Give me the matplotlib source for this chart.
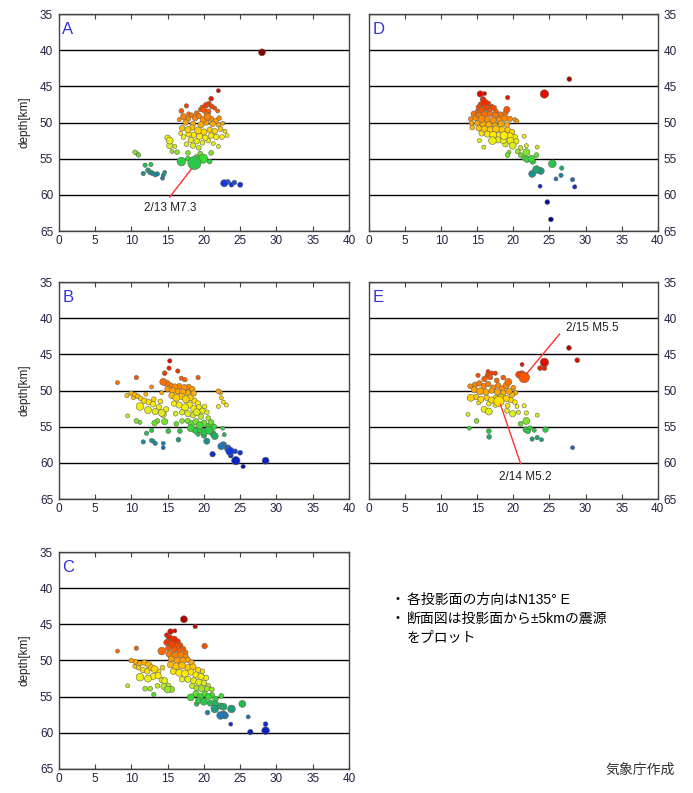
import numpy as np
import matplotlib
matplotlib.use('Agg')
import matplotlib.pyplot as plt
from matplotlib.colors import LinearSegmentedColormap, Normalize

plt.rcParams['font.family'] = ['Liberation Sans', 'Noto Sans CJK JP']

# hypocentres: (distance along section [km], depth [km], magnitude)
pts_a = [
    (28.0, 40.3, 3),
    (22.0, 45.6, 1), (21.0, 46.7, 1.5), (17.6, 47.7, 1.2), (16.9, 48.4, 1.5),
    (19.8, 47.9, 1.5), (20.3, 47.6, 2), (20.7, 47.4, 1.5), (21.1, 47.8, 1.5), (21.5, 48.0, 1),
    (20.0, 48.3, 2), (19.5, 48.2, 1), (21.9, 48.4, 1), (20.6, 48.5, 2),
    (17.2, 49.2, 2.5), (17.8, 49.5, 2), (18.3, 49.0, 1.5), (18.8, 49.4, 2), (19.3, 49.1, 2),
    (19.9, 49.6, 2.5), (20.5, 49.2, 3), (21.0, 49.5, 2), (21.6, 49.8, 2), (22.1, 49.4, 1.5),
    (16.6, 49.6, 1), (17.5, 50.0, 2), (18.5, 50.2, 2), (19.6, 50.3, 2.5), (20.3, 50.0, 2),
    (21.2, 50.2, 2), (22.0, 50.3, 1.5), (22.6, 50.1, 1), (20.4, 48.9, 2), (19.0, 48.7, 1.5),
    (17.9, 48.8, 1),
    (17.0, 50.8, 2), (17.8, 51.0, 2.5), (18.4, 50.7, 2), (19.2, 51.1, 3), (20.0, 51.3, 2.5),
    (20.8, 51.0, 2), (21.5, 51.2, 2), (22.3, 50.9, 1.5), (22.9, 51.2, 1), (23.2, 51.8, 1),
    (22.5, 52.0, 1.5), (21.7, 52.0, 2), (21.0, 51.8, 2), (20.2, 52.1, 2), (19.4, 51.9, 2.5),
    (18.6, 51.7, 2), (17.9, 51.6, 2), (17.2, 52.0, 1.5), (16.8, 51.5, 1), (18.2, 52.4, 2),
    (19.0, 52.6, 2), (19.8, 52.8, 1.5), (20.6, 52.5, 1.5), (21.3, 52.9, 1), (18.5, 53.2, 2),
    (19.3, 53.5, 1.5), (17.6, 53.0, 1.5), (22.0, 53.3, 1), (15.3, 52.5, 3), (15.3, 53.2, 2.5),
    (15.0, 52.1, 2), (16.0, 53.3, 1),
    (16.3, 54.1, 1.5), (17.8, 54.2, 1.5), (19.5, 54.3, 1.5), (21.0, 54.2, 1.5), (15.6, 54.0, 1),
    (10.5, 54.1, 1.2), (11.0, 54.5, 1.2), (10.8, 54.3, 1),
    (16.9, 55.4, 4.2), (18.7, 55.6, 7.3), (19.9, 55.0, 4.5), (20.8, 55.4, 1.5), (19.0, 54.8, 2),
    (17.8, 55.0, 1.5),
    (11.9, 55.9, 1.2), (12.7, 55.8, 1.2), (12.3, 56.6, 1.5), (12.6, 56.9, 1.5), (12.9, 57.0, 1.5),
    (13.3, 57.2, 1.5), (13.6, 57.1, 1.2), (11.65, 57.05, 1.2), (14.4, 57.3, 1), (14.6, 56.9, 1),
    (14.3, 57.7, 1),
    (22.8, 58.4, 3.2), (23.3, 58.2, 1.5), (23.8, 58.6, 1.5), (24.2, 58.3, 1.5), (25.0, 58.6, 1.8),
]

pts_b = [
    (15.3, 45.9, 1.2), (15.2, 46.9, 1.2), (16.4, 47.3, 1.2), (14.6, 47.6, 1.5), (16.9, 48.3, 1.2),
    (17.4, 48.5, 1.2), (19.2, 48.2, 1.2), (10.7, 48.2, 1.2), (8.1, 48.9, 1),
    (14.4, 48.8, 3), (14.9, 49.0, 2.5), (15.4, 49.3, 2), (16.0, 49.5, 2.5), (16.6, 49.4, 2),
    (17.3, 49.6, 2.5), (17.9, 49.5, 2), (18.4, 49.8, 2), (15.0, 49.8, 2), (15.7, 50.0, 2.5),
    (16.4, 50.1, 2), (17.1, 50.2, 2.5), (17.8, 50.3, 2), (18.6, 50.4, 2), (12.8, 49.5, 1),
    (14.2, 50.3, 1), (22.0, 50.1, 1.5), (22.3, 50.3, 1),
    (9.4, 50.7, 1.2), (10.0, 50.4, 1.5), (10.5, 50.6, 1.5), (10.9, 50.8, 1.5), (11.3, 51.1, 1.5),
    (10.3, 51.0, 1), (11.8, 51.4, 2), (12.4, 51.6, 2), (11.2, 52.2, 3.5), (12.3, 52.7, 3),
    (13.3, 52.9, 2.5), (13.0, 51.9, 2), (13.8, 52.3, 2), (14.2, 53.1, 3), (14.4, 53.3, 2.5),
    (14.8, 52.6, 2), (12.0, 50.5, 1), (13.1, 51.2, 1.5), (9.5, 53.5, 1), (14.0, 51.5, 1.5),
    (15.6, 50.7, 2.5), (16.2, 51.0, 3), (16.9, 50.8, 2.5), (17.5, 51.2, 3), (18.1, 51.0, 2.5),
    (18.7, 51.4, 2), (19.2, 51.8, 2), (15.9, 51.8, 2), (16.6, 52.0, 2.5), (17.4, 52.3, 3),
    (18.0, 52.0, 2.5), (18.6, 52.5, 2.5), (19.3, 52.3, 2), (19.8, 52.8, 2), (20.4, 53.0, 1.5),
    (17.0, 53.0, 2), (17.8, 53.2, 2.5), (18.5, 53.4, 2), (19.0, 53.0, 3), (19.6, 53.6, 2),
    (16.1, 53.2, 1.5), (20.6, 53.8, 1.5), (20.1, 52.2, 1.5),
    (22.7, 51.6, 1), (23.1, 52.0, 1), (22.0, 52.2, 1), (22.4, 51.0, 1),
    (10.7, 54.2, 1.5), (11.2, 54.4, 1), (13.2, 54.5, 2), (13.6, 54.2, 1.5), (14.6, 54.3, 2.5),
    (15.1, 55.6, 1.5), (12.1, 55.9, 1.2), (12.8, 55.5, 1.2), (16.5, 56.8, 1.5), (16.7, 55.6, 1.5),
    (16.2, 54.6, 1.5), (17.0, 54.2, 1.5),
    (17.8, 54.2, 2), (18.3, 54.6, 2.5), (18.9, 54.3, 2.5), (19.4, 54.8, 3), (20.0, 54.5, 2.5),
    (20.6, 54.9, 2), (18.2, 55.2, 3), (18.8, 55.5, 2.5), (19.5, 55.4, 2.5), (20.1, 55.7, 3),
    (20.7, 55.5, 3.5), (21.2, 55.9, 2.5), (21.5, 56.3, 3), (20.0, 56.2, 2), (19.2, 56.0, 1.5),
    (21.0, 54.4, 2), (21.4, 55.0, 2), (22.6, 55.2, 1), (22.8, 56.1, 1),
    (11.65, 57.1, 1.2), (12.8, 56.9, 1.2), (13.3, 57.3, 1.2), (14.4, 57.3, 1), (14.4, 57.9, 1),
    (20.4, 57.0, 2.5), (13.0, 57.0, 1),
    (22.4, 57.7, 3), (22.7, 57.5, 2.5), (23.6, 58.4, 4), (23.3, 58.0, 3), (24.3, 58.4, 1.5),
    (25.0, 58.6, 1.5), (21.2, 58.8, 2), (23.7, 59.0, 1.5), (24.4, 59.7, 4), (25.4, 60.5, 1.2),
    (28.5, 59.7, 3),
]

pts_c = [
    (17.25, 44.3, 3), (18.8, 45.3, 1.2), (15.4, 46.0, 2), (14.9, 46.5, 1.5), (16.0, 45.9, 1),
    (15.3, 46.9, 2.5), (15.9, 47.1, 3), (16.4, 47.4, 2), (14.9, 47.5, 2.5), (15.6, 47.8, 3),
    (16.3, 48.0, 2.5), (16.8, 47.9, 1.5), (15.1, 48.3, 2), (15.9, 48.5, 2.5), (16.6, 48.6, 2),
    (17.2, 48.4, 1.5), (17.5, 48.9, 1.5), (20.1, 48.0, 2), (8.1, 48.7, 1), (10.7, 48.3, 1.2),
    (14.2, 48.7, 3.5), (15.2, 49.1, 2.5), (16.0, 49.3, 2.5), (16.8, 49.2, 2.5), (17.5, 49.5, 2),
    (15.5, 49.8, 2.5), (16.3, 50.0, 2.5), (17.1, 50.0, 2.5), (17.8, 49.9, 2), (18.3, 50.3, 2),
    (10.0, 50.0, 1.5), (10.6, 50.2, 1.5), (11.2, 50.4, 1.5), (11.8, 50.3, 2), (12.4, 50.6, 2.5),
    (10.5, 50.8, 1.2), (11.0, 51.0, 1.5), (11.6, 51.3, 2), (12.2, 51.5, 2), (12.8, 51.0, 2.5),
    (13.2, 51.2, 3), (13.7, 51.6, 2), (11.2, 52.3, 3.5), (12.3, 52.5, 3), (13.0, 52.2, 2.5),
    (13.7, 52.1, 2.5), (14.2, 52.7, 2), (14.6, 52.8, 2.5), (15.1, 53.5, 2), (14.5, 53.6, 2.5),
    (15.0, 54.0, 3), (15.55, 54.0, 2.5), (13.6, 53.5, 1.5), (9.5, 53.5, 1), (11.9, 53.9, 1.5),
    (12.6, 53.9, 1.5), (13.1, 54.7, 1.2), (14.3, 51.0, 1.5),
    (15.4, 50.6, 2.5), (16.2, 50.8, 3), (17.0, 50.7, 3), (17.8, 51.0, 2.5), (18.5, 50.9, 2.5),
    (19.2, 51.3, 2), (19.8, 51.5, 1.5), (15.8, 51.5, 2.5), (16.6, 51.7, 3), (17.4, 51.8, 3),
    (18.2, 51.6, 2.5), (18.9, 52.0, 2.5), (19.6, 52.2, 2.5), (20.3, 52.4, 2), (17.0, 52.6, 2),
    (17.8, 52.6, 2.5), (18.6, 52.8, 2.5), (19.3, 53.0, 2.5), (20.0, 53.1, 2), (20.6, 53.5, 1.5),
    (18.4, 53.5, 2), (19.0, 53.8, 2), (19.7, 53.9, 2.5), (20.4, 53.9, 2), (21.1, 54.0, 1.5),
    (18.2, 55.1, 3), (18.9, 54.6, 2.5), (19.5, 55.0, 2.5), (20.1, 54.6, 2), (20.6, 55.0, 2.5),
    (21.1, 54.8, 2), (21.6, 55.3, 2), (22.4, 54.9, 1.5), (19.3, 55.5, 2.5), (20.0, 55.7, 3),
    (20.9, 55.9, 2.5), (21.6, 56.0, 2.5), (22.3, 56.3, 2.5), (19.0, 56.0, 1.5), (21.5, 56.7, 3.5),
    (22.7, 56.4, 3), (23.8, 56.7, 3.5), (25.3, 56.0, 3),
    (20.5, 57.2, 1.5), (22.3, 57.6, 3.5), (22.9, 57.6, 3), (22.7, 57.4, 2.5), (26.1, 57.8, 1),
    (23.7, 58.8, 1), (28.5, 58.8, 1.5), (28.5, 59.7, 3.5), (26.4, 59.9, 2),
]

pts_d = [
    (27.75, 44.0, 1.5), (24.3, 46.05, 4), (19.2, 46.55, 1.2), (15.4, 46.05, 2.5), (16.0, 46.0, 1),
    (15.8, 46.8, 2), (16.0, 47.2, 3), (15.5, 47.5, 2), (16.5, 47.4, 2), (15.2, 47.9, 2),
    (16.2, 47.9, 2.5), (17.0, 47.8, 1.5), (15.6, 48.3, 2.5), (16.6, 48.3, 2), (17.3, 48.0, 2),
    (17.6, 48.5, 1.5), (15.0, 48.5, 1.5), (19.1, 48.2, 2.5),
    (14.5, 48.8, 2), (15.3, 49.0, 2.5), (16.0, 48.9, 2.5), (16.8, 48.8, 2), (17.5, 49.0, 2.5),
    (18.2, 48.9, 2), (18.9, 48.7, 2), (14.1, 49.5, 1.5), (14.8, 49.4, 2), (15.6, 49.5, 3),
    (16.4, 49.6, 2.5), (17.2, 49.7, 2.5), (18.0, 49.6, 2), (18.8, 49.4, 2.5), (19.5, 49.5, 2),
    (20.2, 49.6, 1), (20.5, 49.8, 1), (14.2, 50.1, 1.5), (15.0, 50.1, 2), (15.8, 50.2, 2.5),
    (16.6, 50.3, 2.5), (17.4, 50.3, 2), (18.3, 50.2, 2.5), (19.1, 50.3, 2),
    (14.3, 50.7, 1.5), (15.2, 50.8, 2), (16.0, 50.9, 2.5), (16.8, 51.0, 2.5), (17.6, 50.9, 3),
    (18.4, 51.0, 2.5), (19.2, 51.0, 2), (19.8, 51.3, 2), (15.6, 51.5, 2), (16.4, 51.6, 2.5),
    (17.2, 51.7, 3), (18.0, 51.8, 2.5), (18.7, 51.8, 3.5), (19.5, 51.9, 3), (20.2, 52.0, 2),
    (17.1, 52.5, 3.5), (17.9, 52.4, 2.5), (18.6, 52.5, 2.5), (19.6, 52.5, 3), (20.4, 52.6, 2),
    (19.9, 53.2, 3), (18.9, 53.0, 2), (15.3, 52.5, 1), (15.9, 53.4, 1), (21.5, 51.9, 1),
    (21.8, 53.2, 1), (23.3, 53.4, 1), (21.0, 53.5, 1.5), (20.6, 54.0, 1.5),
    (19.2, 54.5, 1.5), (19.4, 54.1, 1), (21.0, 54.5, 1.5), (21.8, 54.1, 3), (21.9, 55.1, 2.5),
    (22.5, 55.0, 3), (22.7, 55.4, 2), (23.2, 54.5, 1.5), (21.5, 54.9, 1.5), (25.4, 55.7, 3.5),
    (26.7, 56.3, 1.2),
    (23.2, 56.5, 3.5), (23.8, 56.7, 3), (22.6, 57.1, 3),
    (26.6, 57.3, 1.2), (25.9, 57.8, 1), (28.2, 57.9, 1.2), (28.5, 58.9, 1.2), (23.7, 58.8, 1),
    (24.7, 61.0, 1.5), (25.2, 63.4, 1.5),
]

pts_e = [
    (27.7, 44.1, 1.5), (28.85, 45.8, 1.5), (24.3, 46.1, 4), (23.7, 46.9, 1.5), (24.3, 46.9, 1.5),
    (21.2, 46.4, 1), (20.8, 47.8, 3), (21.2, 47.7, 2.5), (21.5, 48.2, 5.5),
    (16.5, 47.4, 1.2), (17.0, 47.6, 1.2), (16.4, 47.9, 1.5), (17.5, 47.6, 1.2), (15.1, 47.9, 1.2),
    (16.0, 48.4, 2), (16.8, 48.2, 1.5), (17.7, 48.6, 1.5), (18.6, 48.2, 1.5), (19.3, 48.8, 3),
    (19.0, 49.3, 2.5), (14.0, 49.4, 1.5), (14.7, 49.2, 2), (15.3, 49.0, 2), (15.9, 49.4, 2),
    (16.5, 49.1, 2), (17.2, 49.6, 2), (17.9, 49.3, 2), (18.5, 49.7, 2), (20.0, 49.6, 1.5),
    (20.3, 50.3, 1.5), (14.6, 49.9, 2.5), (15.4, 50.1, 3), (16.2, 50.2, 2.5), (17.0, 50.0, 2),
    (17.8, 50.2, 2.5), (18.6, 50.3, 2), (19.4, 50.1, 2.5), (19.8, 50.6, 2),
    (14.1, 51.0, 3), (14.8, 50.9, 2), (15.5, 51.2, 2.5), (16.3, 51.0, 2), (17.0, 51.3, 2.5),
    (17.6, 51.0, 2), (18.3, 50.9, 2.5), (19.0, 51.1, 2.5), (19.6, 51.3, 2), (18.0, 51.5, 5.2),
    (20.2, 51.6, 1.5), (15.2, 51.7, 1), (16.6, 51.8, 1.5), (17.5, 52.0, 1.5), (19.2, 52.1, 1.5),
    (20.5, 52.2, 1), (15.96, 52.6, 2.5), (16.6, 52.9, 3), (19.9, 53.2, 2.5), (19.1, 52.8, 1.5),
    (13.7, 53.3, 1), (21.5, 52.1, 1), (21.8, 53.1, 1.2), (23.3, 53.4, 1), (20.7, 53.0, 1),
    (14.9, 54.2, 1.5), (13.9, 55.2, 1), (16.6, 55.6, 1.5), (16.65, 56.4, 1.5), (21.0, 54.6, 1.5),
    (21.8, 54.2, 3), (21.7, 55.4, 2), (22.0, 55.6, 2), (22.9, 55.5, 1), (24.45, 55.4, 2),
    (22.6, 56.7, 1.2), (23.3, 56.5, 1.2), (23.9, 56.8, 1), (22.3, 55.2, 1.5),
    (28.2, 57.9, 1),
]

# annotations: text, text position, line start, line end
notes_a = [('2/13 M7.3', (15.4, 61.8), (15.3, 60.3), (18.3, 56.4))]
notes_e = [('2/15 M5.5', (31.0, 41.4), (26.4, 42.2), (21.9, 47.6)),
           ('2/14 M5.2', (21.6, 61.9), (21.0, 60.1), (18.2, 51.9))]

depth_colors = [(40, '#8b0000'), (44.5, '#b00000'), (46.5, '#ee1100'), (48.5, '#ff6000'),
                (50.0, '#ffa000'), (51.8, '#ffee00'), (53.3, '#d8ee20'), (55.0, '#33dd33'),
                (56.0, '#22bb55'), (57.0, '#1a9090'), (57.8, '#2070c8'), (58.6, '#1030dd'),
                (62.0, '#00008b')]
lo, hi = depth_colors[0][0], depth_colors[-1][0]
cmap = LinearSegmentedColormap.from_list(
    'depth', [((d - lo) / (hi - lo), c) for d, c in depth_colors])
norm = Normalize(lo, hi)

fig = plt.figure(figsize=(6.93, 7.93), dpi=100)

panels = [
    ('A', pts_a, [0.0847, 0.7087, 0.419, 0.2736], False, notes_a),
    ('B', pts_b, [0.0847, 0.3707, 0.419, 0.2736], False, []),
    ('C', pts_c, [0.0847, 0.0303, 0.419, 0.2736], False, []),
    ('D', pts_d, [0.5325, 0.7087, 0.4166, 0.2736], True, []),
    ('E', pts_e, [0.5325, 0.3707, 0.4166, 0.2736], True, notes_e),
]

for letter, pts, pos, right, notes in panels:
    ax = fig.add_axes(pos)
    x, d, m = np.array(pts).T
    order = np.argsort(m, kind='stable')
    sizes = (0.72 * (2.6 + 1.45 * m)) ** 2
    ax.scatter(x[order], d[order], s=sizes[order], c=d[order], cmap=cmap, norm=norm,
               edgecolors='#666655', linewidths=0.4, zorder=3)
    ax.set_xlim(0, 40)
    ax.set_ylim(65, 35)
    ax.set_xticks(range(0, 41, 5))
    ax.set_yticks(range(35, 66, 5))
    ax.set_axisbelow(True)
    ax.grid(axis='y', color='black', lw=1)
    if right:
        ax.yaxis.tick_right()
    else:
        ax.set_ylabel('depth[km]', fontsize=8.5, labelpad=7, color='#222222')
    ax.tick_params(axis='x', direction='in', length=3.5, top=True, bottom=True,
                   labelsize=8.5, pad=3, colors='#444444', labelcolor='#222244')
    ax.tick_params(axis='y', length=0, labelsize=8.5, pad=4, labelcolor='#222244')
    for sp in ax.spines.values():
        sp.set_color('#444444')
        sp.set_linewidth(1)
    ax.text(0.5, 37.2, letter, color='#3333dd', fontsize=12, ha='left', va='center')
    for txt, tpos, p0, p1 in notes:
        ax.plot([p0[0], p1[0]], [p0[1], p1[1]], color='#ff3030', lw=1, zorder=4)
        ax.text(tpos[0], tpos[1], txt, fontsize=8.5, ha='center', va='center', color='#222222')

fig.text(0.5635, 0.2434, '・', fontsize=10, va='center', ha='left')
fig.text(0.587, 0.2434, '各投影面の方向はN135° E', fontsize=10, va='center', ha='left')
fig.text(0.5635, 0.2194, '・', fontsize=10, va='center', ha='left')
fig.text(0.587, 0.2194, '断面図は投影面から±5kmの震源', fontsize=10, va='center', ha='left')
fig.text(0.587, 0.1955, 'をプロット', fontsize=10, va='center', ha='left')
fig.text(0.974, 0.029, '気象庁作成', fontsize=10, va='center', ha='right', color='#333333')

fig.savefig('out.png', dpi=100)
